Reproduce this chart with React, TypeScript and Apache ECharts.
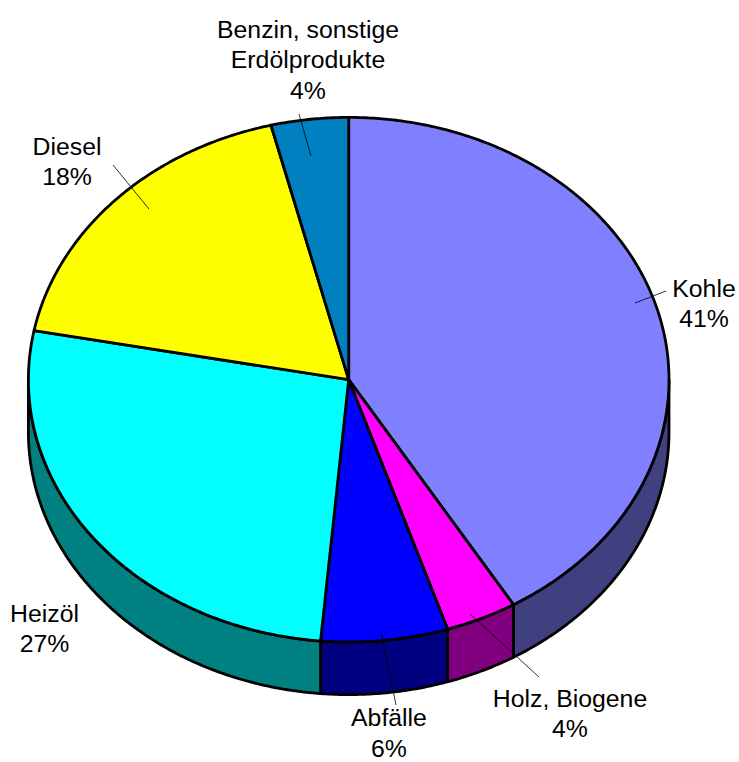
import React, { useEffect, useRef } from "react";
import * as echarts from "echarts";

const categories = ["Kohle", "Holz, Biogene", "Abfälle", "Heizöl", "Diesel", "Benzin, sonstige\nErdölprodukte"];
const shares = [41.4, 3.6, 6.4, 26.6, 18.1, 3.9];
const shownPercent = [41, 4, 6, 27, 18, 4];
const topColors = ["#8080FF", "#FF00FF", "#0000FF", "#00FFFF", "#FFFF00", "#0080C0"];
const sideColors = ["#404080", "#800080", "#000080", "#008080", "#808000", "#004060"];

const W = 739;
const H = 762;
const CX = 348.7;
const CY = 379.7;
const RX = 320.3;
const RY = 262.3;
const DEPTH = 52.6;
const EDGE = 2.8;

// Label layout: centre x and first-line centre y; leader end points
const labelAnchors = [
  [704, 288], [570, 698], [389, 717.5], [44.5, 613], [67, 146], [308, 29],
];
const leaders: (number[] | null)[] = [
  [635, 303, 666, 291],
  [470, 614, 539, 677],
  [381, 632, 396, 705],
  null,
  [113, 165, 149, 209],
  [299, 114, 311, 156],
];

const total = shares.reduce((a, b) => a + b, 0);
const bounds: number[][] = [];
let acc = 0;
for (const v of shares) {
  const s = (acc / total) * 360;
  acc += v;
  bounds.push([s, (acc / total) * 360]);
}

const pt = (deg: number, dy = 0) => {
  const r = (deg * Math.PI) / 180;
  return [CX + RX * Math.sin(r), CY - RY * Math.cos(r) + dy];
};
const arc = (a: number, b: number, dy = 0) => {
  const n = Math.max(2, Math.ceil(Math.abs(b - a) * 2));
  const out: number[][] = [];
  for (let i = 0; i <= n; i++) out.push(pt(a + ((b - a) * i) / n, dy));
  return out;
};

const edgeStyle = { stroke: "#000", lineWidth: EDGE, lineJoin: "round" as const };

export default function App() {
  const ref = useRef<HTMLDivElement>(null);
  useEffect(() => {
    document.body.style.margin = "0";
    const chart = echarts.init(ref.current!, null, { renderer: "svg" });
    const rows = shares.map((v, i) => [i, v]);
    chart.setOption({
      animation: false,
      backgroundColor: "#fff",
      series: [
        {
          type: "custom",
          coordinateSystem: "none",
          silent: true,
          z: 1,
          data: rows,
          renderItem: (_p: any, api: any) => {
            const i = api.value(0);
            const a = Math.max(bounds[i][0], 90);
            const b = Math.min(bounds[i][1], 270);
            if (b <= a) return null;
            return {
              type: "polygon",
              shape: { points: [...arc(a, b), ...arc(b, a, DEPTH)] },
              style: { fill: sideColors[i], ...edgeStyle },
            };
          },
        },
        {
          type: "custom",
          coordinateSystem: "none",
          silent: true,
          z: 2,
          data: rows,
          renderItem: (_p: any, api: any) => {
            const i = api.value(0);
            return {
              type: "polygon",
              shape: { points: [[CX, CY], ...arc(bounds[i][0], bounds[i][1])] },
              style: { fill: topColors[i], ...edgeStyle },
            };
          },
        },
        {
          type: "custom",
          coordinateSystem: "none",
          silent: true,
          z: 3,
          data: rows,
          renderItem: (_p: any, api: any) => {
            const i = api.value(0);
            const children: any[] = [];
            const l = leaders[i];
            if (l) {
              children.push({
                type: "line",
                shape: { x1: l[0], y1: l[1], x2: l[2], y2: l[3] },
                style: { stroke: "#000", lineWidth: 0.8 },
              });
            }
            const lines = [...categories[i].split("\n"), shownPercent[i] + "%"];
            lines.forEach((t, k) => {
              children.push({
                type: "text",
                style: {
                  text: t,
                  x: labelAnchors[i][0],
                  y: labelAnchors[i][1] + k * 30.7,
                  align: "center",
                  verticalAlign: "middle",
                  fontFamily: "Liberation Sans",
                  fontSize: 24.8,
                  lineHeight: 18,
                  fill: "#000",
                },
              });
            });
            return { type: "group", children };
          },
        },
      ],
    });
    return () => chart.dispose();
  }, []);
  return <div ref={ref} style={{ width: W, height: H }} />;
}
